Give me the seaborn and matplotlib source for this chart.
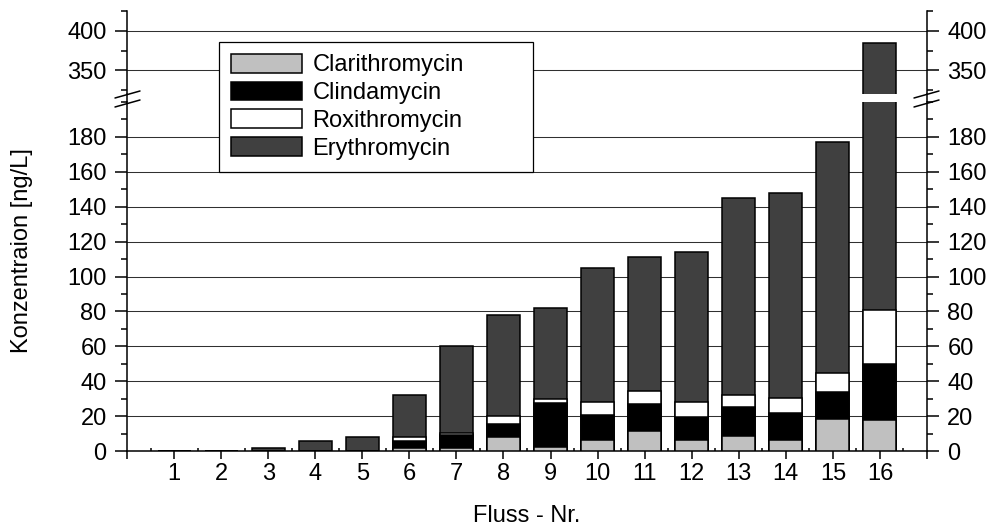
import numpy as np
import pandas as pd
import matplotlib
matplotlib.use("Agg")
import matplotlib.pyplot as plt
import seaborn as sns
from matplotlib.ticker import MultipleLocator, FixedLocator
from matplotlib.lines import Line2D
from matplotlib.patches import Patch

# ---------------- data ----------------
rivers = [str(i) for i in range(1, 17)]
clarithromycin = [0, 0, 0, 0, 0, 1.5, 1.5, 8, 2.5, 6.5, 11.5, 6.5, 8.5, 6.5, 18.5, 18]
clindamycin = [0, 0, 0, 0, 0, 4.5, 7.5, 7.5, 25, 14, 15.5, 13, 16.5, 15.5, 15.5, 32]
roxithromycin = [0, 0, 0, 0, 0, 2, 1.5, 4.5, 2.5, 7.5, 7.5, 8.5, 7, 8.5, 10.5, 31]
erythromycin = [0, 0, 2, 6, 8, 24, 49.5, 58, 52, 77, 76.5, 86, 113, 117.5, 132.5, 304]
series_names = ["Clarithromycin", "Clindamycin", "Roxithromycin", "Erythromycin"]
lower_ticks = [0, 20, 40, 60, 80, 100, 120, 140, 160, 180]

# ---------------- style ----------------
sns.set_theme(style="white")
plt.rcParams["font.family"] = ["Liberation Sans", "DejaVu Sans"]
plt.rcParams["text.color"] = "black"
plt.rcParams["axes.labelcolor"] = "black"
plt.rcParams["xtick.color"] = "black"
plt.rcParams["ytick.color"] = "black"
plt.rcParams["xtick.labelcolor"] = "black"
plt.rcParams["ytick.labelcolor"] = "black"
FS = 17
colors = {"Clarithromycin": "#c0c0c0", "Clindamycin": "#000000",
          "Roxithromycin": "#ffffff", "Erythromycin": "#404040"}

df = pd.DataFrame({"river": rivers})
df["c1"] = np.array(clarithromycin)
df["c2"] = df["c1"] + np.array(clindamycin)
df["c3"] = df["c2"] + np.array(roxithromycin)
df["c4"] = df["c3"] + np.array(erythromycin)

W, H = 997, 532
fig = plt.figure(figsize=(W / 100, H / 100), dpi=100)

def fx(x):
    return x / W

def fy(y):
    return 1 - y / H

L, R = 127, 927
ax_bot = fig.add_axes([fx(L), fy(451), fx(R - L), (451 - 102) / H])
ax_top = fig.add_axes([fx(L), fy(94), fx(R - L), (94 - 11) / H])

lw = 1.1
for ax in (ax_bot, ax_top):
    for col, name in [("c4", "Erythromycin"), ("c3", "Roxithromycin"),
                      ("c2", "Clindamycin"), ("c1", "Clarithromycin")]:
        sns.barplot(data=df, x="river", y=col, order=rivers, color=colors[name],
                    saturation=1, edgecolor="black", linewidth=lw, width=0.7,
                    errorbar=None, ax=ax, zorder=3)
    ax.set_xlim(-1, 16)
    ax.set_xlabel("")
    ax.set_ylabel("")
    ax.set_axisbelow(True)
    ax.grid(False)
    ax.spines["top"].set_visible(False)
    for s in ("left", "right", "bottom"):
        ax.spines[s].set_linewidth(lw)
        ax.spines[s].set_color("black")
    ax.tick_params(axis="y", which="both", direction="out", left=True, right=True,
                   labelleft=True, labelright=True, color="black", labelcolor="black",
                   width=lw, labelsize=FS, pad=6)
    ax.tick_params(axis="y", which="major", length=8.6)
    ax.tick_params(axis="y", which="minor", length=4.3)

# lower axis
ax_bot.set_ylim(0, 200)
ax_bot.yaxis.set_major_locator(FixedLocator(lower_ticks))
ax_bot.yaxis.set_minor_locator(MultipleLocator(10))
ax_bot.yaxis.grid(True, which="major", color="#303030", linewidth=0.75)
ax_bot.set_xticks(np.arange(-1, 17))
ax_bot.set_xticklabels([""] + rivers + [""])
ax_bot.xaxis.set_minor_locator(FixedLocator(np.arange(-0.5, 16, 1.0)))
ax_bot.tick_params(axis="x", which="major", direction="out", bottom=True, length=5.8,
                   width=lw, color="black", labelcolor="black", labelsize=FS, pad=3)
ax_bot.tick_params(axis="x", which="minor", direction="in", bottom=True, length=2.2,
                   width=lw, color="black")
ax_bot.set_xlabel("Fluss - Nr.", fontsize=FS, labelpad=14, color="black")

# upper axis
ax_top.set_ylim(320, 425)
ax_top.yaxis.set_major_locator(MultipleLocator(50))
ax_top.yaxis.set_minor_locator(MultipleLocator(25))
ax_top.yaxis.grid(True, which="major", color="#303030", linewidth=0.75)
ax_top.spines["bottom"].set_visible(False)
ax_top.tick_params(axis="x", which="both", bottom=False, labelbottom=False)

# break: connect spines and draw slashes
for x in (L, R):
    fig.add_artist(Line2D([fx(x), fx(x)], [fy(94), fy(102)], color="black",
                          linewidth=lw, transform=fig.transFigure))
for (x0, x1) in ((115, 140), (914, 939)):
    for dy in (0, 9):
        fig.add_artist(Line2D([fx(x0), fx(x1)], [fy(98 + dy), fy(91 + dy)],
                              color="black", linewidth=lw, transform=fig.transFigure))

fig.text(fx(22), fy(251), "Konzentraion [ng/L]", rotation=90, ha="center",
         va="center", fontsize=FS, color="black")

handles = [Patch(facecolor=colors[n], edgecolor="black", linewidth=lw) for n in series_names]
leg = fig.legend(handles, series_names, loc="upper left",
                 bbox_to_anchor=(fx(219), fy(174), fx(533 - 219), (174 - 42) / H),
                 mode="expand", borderaxespad=0, frameon=True, fancybox=False,
                 edgecolor="black", framealpha=1, fontsize=FS, handlelength=3.0,
                 handleheight=0.85, handletextpad=0.45, labelspacing=0.22,
                 borderpad=0.5, labelcolor="black")
leg.get_frame().set_linewidth(0.9)

fig.savefig("out.png", dpi=100)
